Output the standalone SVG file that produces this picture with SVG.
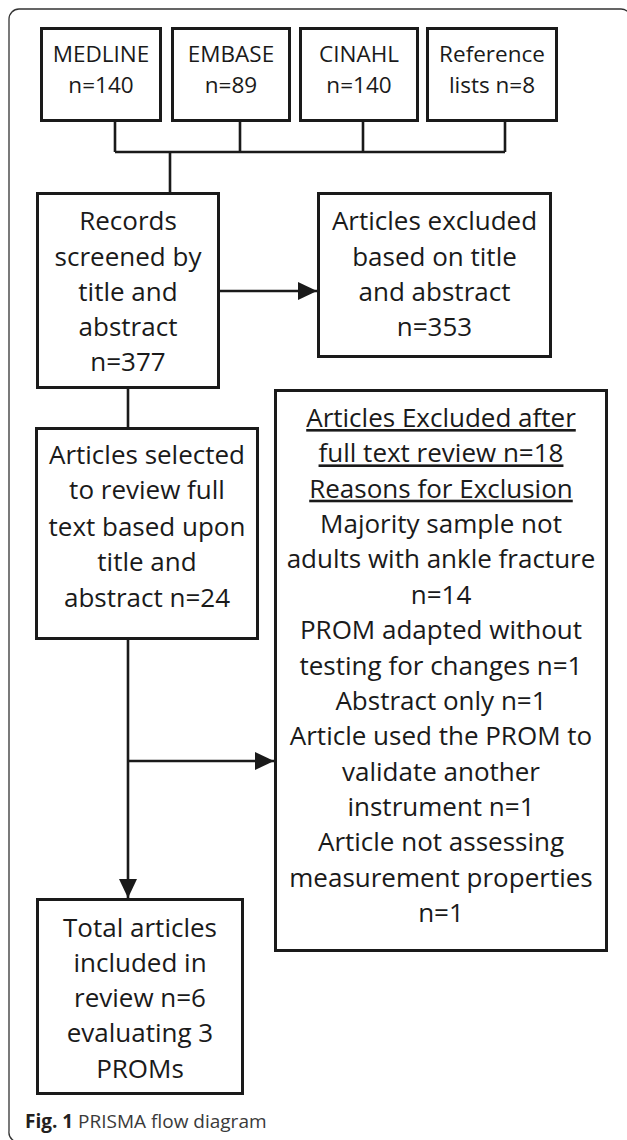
<svg xmlns="http://www.w3.org/2000/svg" width="627" height="1140" viewBox="0 0 627 1140">
<defs>
<marker id="ah" markerUnits="userSpaceOnUse" markerWidth="20" markerHeight="20" viewBox="0 0 20 20" refX="19" refY="10" orient="auto">
<path d="M0,1 L19,10 L0,19 Z" fill="#1a1a1a"/>
</marker>
<style>
.box{fill:#fff;stroke:#1a1a1a;stroke-width:3}
.t{font-family:"Open Sans","Noto Sans","Liberation Sans",sans-serif;font-size:26px;fill:#1a1a1a;text-anchor:middle}
.ts{font-size:22.5px}
.u{text-decoration:underline}
.ln{fill:none;stroke:#1a1a1a;stroke-width:2.6}
.cap{font-family:"Open Sans","Noto Sans","Liberation Sans",sans-serif;font-size:19px;fill:#3a3a3a}
</style>
</defs>
<rect x="0" y="0" width="627" height="1140" fill="#fff"/>
<path d="M21,1142 A10,10 0 0 1 9,1131 V19 A10,10 0 0 1 19,9 H621 A10,10 0 0 1 631,19" fill="none" stroke="#333" stroke-width="1.3"/>
<g id="connectors">
<path class="ln" d="M115,122 V152 M240,122 V152 M363,122 V152 M505,122 V152 M115,152 H505 M170,152 V192"/>
<path class="ln" d="M218,291 H317" marker-end="url(#ah)"/>
<path class="ln" d="M128,389 V427"/>
<path class="ln" d="M128,640 V898" marker-end="url(#ah)"/>
<path class="ln" d="M128,761 H274" marker-end="url(#ah)"/>
</g>
<g id="medline">
<rect class="box" x="41.5" y="28.5" width="119" height="92"/>
<text class="t ts" x="101" y="62">MEDLINE</text>
<text class="t ts" x="101" y="93">n=140</text>
</g>
<g id="embase">
<rect class="box" x="172.5" y="28.5" width="117" height="92"/>
<text class="t ts" x="231" y="62">EMBASE</text>
<text class="t ts" x="231" y="93">n=89</text>
</g>
<g id="cinahl">
<rect class="box" x="300.5" y="28.5" width="117" height="92"/>
<text class="t ts" x="359" y="62">CINAHL</text>
<text class="t ts" x="359" y="93">n=140</text>
</g>
<g id="reflists">
<rect class="box" x="427.5" y="28.5" width="129" height="92"/>
<text class="t ts" x="492" y="62">Reference</text>
<text class="t ts" x="492" y="93">lists n=8</text>
</g>
<g id="screened">
<rect class="box" x="37.5" y="193.5" width="181" height="194"/>
<text class="t" x="128" y="230">Records</text>
<text class="t" x="128" y="266">screened by</text>
<text class="t" x="128" y="301">title and</text>
<text class="t" x="128" y="336">abstract</text>
<text class="t" x="128" y="371">n=377</text>
</g>
<g id="excluded1">
<rect class="box" x="318.5" y="193.5" width="232" height="163"/>
<text class="t" x="434.5" y="230">Articles excluded</text>
<text class="t" x="434.5" y="266">based on title</text>
<text class="t" x="434.5" y="301">and abstract</text>
<text class="t" x="434.5" y="336">n=353</text>
</g>
<g id="selected">
<rect class="box" x="36.5" y="428.5" width="221" height="210"/>
<text class="t" x="147" y="464">Articles selected</text>
<text class="t" x="147" y="499">to review full</text>
<text class="t" x="147" y="536">text based upon</text>
<text class="t" x="147" y="571">title and</text>
<text class="t" x="147" y="607">abstract n=24</text>
</g>
<g id="excluded2">
<rect class="box" x="275.5" y="390.5" width="331" height="560"/>
<text class="t u" x="441" y="427">Articles Excluded after</text>
<text class="t u" x="441" y="462.4">full text review n=18</text>
<text class="t u" x="441" y="497.7">Reasons for Exclusion</text>
<text class="t" x="441" y="533.1">Majority sample not</text>
<text class="t" x="441" y="568.4">adults with ankle fracture</text>
<text class="t" x="441" y="603.8">n=14</text>
<text class="t" x="441" y="639.2">PROM adapted without</text>
<text class="t" x="441" y="674.5">testing for changes n=1</text>
<text class="t" x="441" y="709.9">Abstract only n=1</text>
<text class="t" x="441" y="745.2">Article used the PROM to</text>
<text class="t" x="441" y="780.6">validate another</text>
<text class="t" x="441" y="816">instrument n=1</text>
<text class="t" x="441" y="851.3">Article not assessing</text>
<text class="t" x="441" y="886.7">measurement properties</text>
<text class="t" x="441" y="922">n=1</text>
</g>
<g id="included">
<rect class="box" x="37.5" y="899.5" width="205" height="194"/>
<text class="t" x="140" y="937">Total articles</text>
<text class="t" x="140" y="972">included in</text>
<text class="t" x="140" y="1007">review n=6</text>
<text class="t" x="140" y="1042">evaluating 3</text>
<text class="t" x="140" y="1078">PROMs</text>
</g>
<g id="caption">
<text class="cap" x="25" y="1128"><tspan font-weight="bold" fill="#231f20">Fig. 1</tspan> PRISMA flow diagram</text>
</g>
</svg>
